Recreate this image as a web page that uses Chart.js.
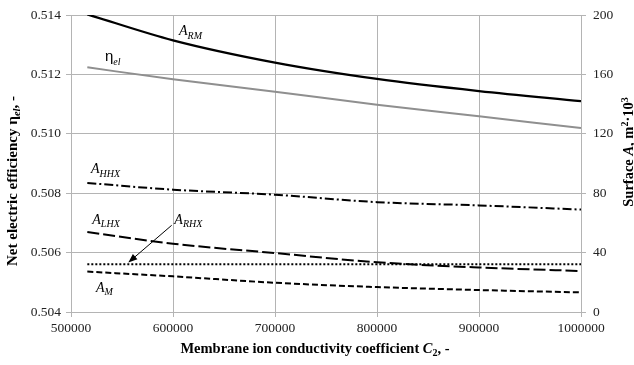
<!DOCTYPE html>
<html>
<head>
<meta charset="utf-8">
<script src="https://cdn.jsdelivr.net/npm/chart.js@4.4.1/dist/chart.umd.min.js"></script>
<style>
  html, body { margin: 0; padding: 0; background: #fff; }
  #wrap { width: 634px; height: 365px; position: relative; }
</style>
</head>
<body>
<div id="wrap"><canvas id="chart" width="634" height="365"></canvas></div>
<script>
// C2 values
const c2 = [516000, 600000, 700000, 800000, 900000, 1000000];

// net electric efficiency (left axis)
const etaEl = [0.51224, 0.51184, 0.51142, 0.51098, 0.51059, 0.5102];

// surfaces, m2*10^3 (right axis)
const aRM  = [200.5, 183, 168, 157, 148.8, 142];
const aHHX = [86.9, 82.4, 79, 74, 71.8, 69];
const aLHX = [53.9, 46, 39.7, 33.5, 30, 27.6];
const aRHX = [32.1, 32.1, 32.1, 32.1, 32.1, 32.1];
const aM   = [27.2, 24, 19.7, 16.8, 14.8, 13.2];

const xTicks = [500000, 600000, 700000, 800000, 900000, 1000000];
const yLeftTicks = [0.504, 0.506, 0.508, 0.510, 0.512, 0.514];
const yRightTicks = [0, 40, 80, 120, 160, 200];

const SERIF = '"Liberation Serif", "Times New Roman", serif';
const GRID = '#b4b4b4';

function pts(ys) { return c2.map((x, i) => ({ x: x, y: ys[i] })); }

function line(label, ys, axis, color, width, dash) {
  return {
    label: label, data: pts(ys), yAxisID: axis,
    borderColor: color, borderWidth: width, borderDash: dash,
    pointRadius: 0, fill: false, cubicInterpolationMode: 'monotone'
  };
}

// curve labels, placed in data units (x, right-axis value of baseline)
const curveLabels = [
  { main: 'A', sub: 'RM', x: 605900, y: 186.3 },
  { main: '\u03b7', sub: 'el', x: 533300, y: 168.8, sans: true },
  { main: 'A', sub: 'HHX', x: 519600, y: 93.6 },
  { main: 'A', sub: 'LHX', x: 520900, y: 59.5 },
  { main: 'A', sub: 'RHX', x: 601300, y: 59.4 },
  { main: 'A', sub: 'M', x: 524500, y: 13.5 }
];
const arrow = { from: [598700, 58.4], to: [556200, 33.3] };

function drawRich(ctx, segs, x, y, align) {
  let w = 0;
  segs.forEach(s => { ctx.font = s.font; w += ctx.measureText(s.t).width; });
  let cx = align === 'center' ? x - w / 2 : x;
  segs.forEach(s => {
    ctx.font = s.font;
    ctx.fillText(s.t, cx, y + (s.dy || 0));
    cx += ctx.measureText(s.t).width;
  });
}

const annotations = {
  id: 'annotations',
  afterDraw(chart) {
    const ctx = chart.ctx;
    const xs = chart.scales.x, ys = chart.scales.y1;
    ctx.save();
    ctx.fillStyle = '#000';
    ctx.textBaseline = 'alphabetic';
    ctx.textAlign = 'left';

    curveLabels.forEach(l => {
      const px = xs.getPixelForValue(l.x), py = ys.getPixelForValue(l.y);
      const mainFont = l.sans ? '15px "Liberation Sans", Arial, sans-serif' : 'italic 14px ' + SERIF;
      drawRich(ctx, [
        { t: l.main, font: mainFont },
        { t: l.sub, font: 'italic 10px ' + SERIF, dy: 3.5 }
      ], px, py, 'left');
    });

    // arrow to A_RHX
    const x1 = xs.getPixelForValue(arrow.from[0]), y1 = ys.getPixelForValue(arrow.from[1]);
    const x2 = xs.getPixelForValue(arrow.to[0]), y2 = ys.getPixelForValue(arrow.to[1]);
    const ang = Math.atan2(y2 - y1, x2 - x1);
    ctx.strokeStyle = '#000';
    ctx.lineWidth = 1;
    ctx.beginPath();
    ctx.moveTo(x1, y1);
    ctx.lineTo(x2 - 6 * Math.cos(ang), y2 - 6 * Math.sin(ang));
    ctx.stroke();
    ctx.beginPath();
    ctx.moveTo(x2, y2);
    ctx.lineTo(x2 - 9 * Math.cos(ang) + 3.5 * Math.sin(ang), y2 - 9 * Math.sin(ang) - 3.5 * Math.cos(ang));
    ctx.lineTo(x2 - 9 * Math.cos(ang) - 3.5 * Math.sin(ang), y2 - 9 * Math.sin(ang) + 3.5 * Math.cos(ang));
    ctx.closePath();
    ctx.fill();

    // axis titles
    const B = 'bold 14.5px ' + SERIF, BI = 'bold italic 14.5px ' + SERIF, BS = 'bold 10px ' + SERIF;
    drawRich(ctx, [
      { t: 'Membrane ion conductivity coefficient ', font: B },
      { t: 'C', font: BI },
      { t: '2', font: BS, dy: 3 },
      { t: ', -', font: B }
    ], 315, 353, 'center');

    const L = 'bold 15px ' + SERIF;
    ctx.save();
    ctx.translate(17, 181);
    ctx.rotate(-Math.PI / 2);
    drawRich(ctx, [
      { t: 'Net electric efficiency ', font: L },
      { t: '\u03b7', font: 'bold 15.5px ' + SERIF },
      { t: 'el', font: 'bold italic 10.5px ' + SERIF, dy: 3 },
      { t: ', -', font: L }
    ], 0, 0, 'center');
    ctx.restore();

    ctx.save();
    ctx.translate(633, 152);
    ctx.rotate(-Math.PI / 2);
    drawRich(ctx, [
      { t: 'Surface ', font: B },
      { t: 'A', font: BI },
      { t: ', m', font: B },
      { t: '2', font: BS, dy: -5 },
      { t: '\u00b710', font: B },
      { t: '3', font: BS, dy: -5 }
    ], 0, 0, 'center');
    ctx.restore();

    ctx.restore();
  }
};

const tickFont = { family: SERIF, size: 13.5 };

new Chart(document.getElementById('chart'), {
  type: 'line',
  data: {
    datasets: [
      line('A_RM', aRM, 'y1', '#000', 2.2, []),
      line('eta_el', etaEl, 'y', '#8f8f8f', 2, []),
      line('A_HHX', aHHX, 'y1', '#000', 2, [9, 3, 2, 3]),
      line('A_LHX', aLHX, 'y1', '#000', 2, [12, 4]),
      line('A_RHX', aRHX, 'y1', '#000', 2, [2, 2]),
      line('A_M', aM, 'y1', '#000', 2, [6, 3])
    ]
  },
  options: {
    responsive: false,
    animation: false,
    layout: { padding: { top: 14, left: 0, right: 0, bottom: 0 } },
    plugins: { legend: { display: false }, tooltip: { enabled: false } },
    scales: {
      x: {
        type: 'linear', min: xTicks[0], max: xTicks[xTicks.length - 1],
        afterBuildTicks: s => { s.ticks = xTicks.map(v => ({ value: v })); },
        ticks: { callback: v => String(v), font: tickFont, color: '#222', padding: 3, maxRotation: 0 },
        grid: { color: GRID, tickLength: 5 },
        border: { color: GRID },
        afterFit: s => { s.height = 53; }
      },
      y: {
        position: 'left', min: yLeftTicks[0], max: yLeftTicks[yLeftTicks.length - 1],
        afterBuildTicks: s => { s.ticks = yLeftTicks.map(v => ({ value: v })); },
        ticks: { callback: v => v.toFixed(3), font: tickFont, color: '#222', padding: 5 },
        grid: { color: GRID, tickLength: 5 },
        border: { color: GRID },
        afterFit: s => { s.width = 71; }
      },
      y1: {
        position: 'right', min: yRightTicks[0], max: yRightTicks[yRightTicks.length - 1],
        afterBuildTicks: s => { s.ticks = yRightTicks.map(v => ({ value: v })); },
        ticks: { callback: v => String(v), font: tickFont, color: '#222', padding: 7 },
        grid: { drawOnChartArea: false, color: GRID, tickLength: 5 },
        border: { color: GRID },
        afterFit: s => { s.width = 53; }
      }
    }
  },
  plugins: [annotations]
});
</script>
</body>
</html>
